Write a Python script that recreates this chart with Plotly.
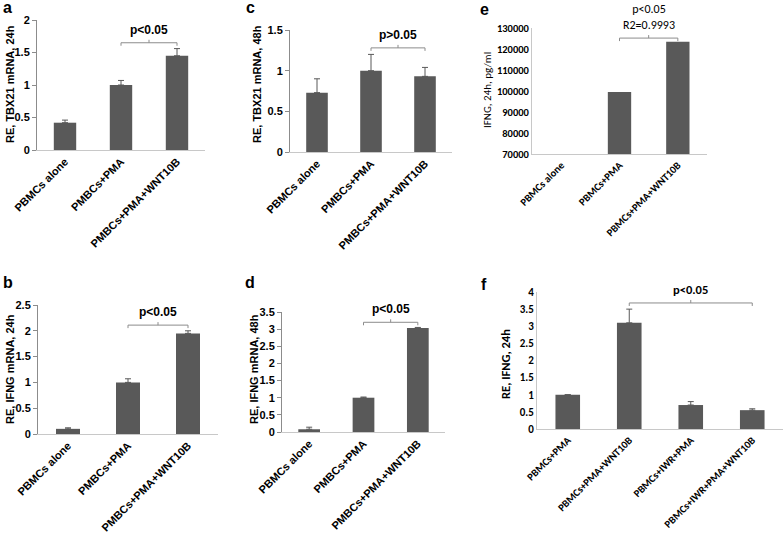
import plotly.graph_objects as go

W, H = 784, 533

# ---------------- data ----------------
cats_abcd = ["PBMCs alone", "PMBCs+PMA", "PMBCs+PMA+WNT10B"]
cats_e = ["PBMCs alone", "PBMCs+PMA", "PBMCs+PMA+WNT10B"]
cats_f = ["PBMCs+PMA", "PBMCs+PMA+WNT10B", "PBMCs+IWR+PMA", "PBMCs+IWR+PMA+WNT10B"]

a_vals = [0.42, 1.0, 1.45]
a_err = [0.04, 0.07, 0.11]
c_vals = [0.73, 1.0, 0.93]
c_err = [0.17, 0.2, 0.11]
e_vals = [None, 99500, 123500]
e_err = [0, 0, 0]
b_vals = [0.1, 1.0, 1.95]
b_err = [0.02, 0.07, 0.05]
d_vals = [0.08, 1.0, 3.03]
d_err = [0.06, 0.02, 0.02]
f_vals = [1.0, 3.1, 0.7, 0.55]
f_err = [0.0, 0.4, 0.1, 0.04]

a_ticks = [0, 0.5, 1, 1.5, 2]
c_ticks = [0, 0.5, 1, 1.5]
e_ticks = [70000, 80000, 90000, 100000, 110000, 120000, 130000]
b_ticks = [0, 0.5, 1, 1.5, 2, 2.5]
d_ticks = [0, 0.5, 1, 1.5, 2, 2.5, 3, 3.5]
f_ticks = [0, 0.5, 1, 1.5, 2, 2.5, 3, 3.5, 4]

# brackets: (from category index, to category index, height, label)
a_brk = (1, 2, 1.65, "p<0.05")
c_brk = (1, 2, 1.28, "p>0.05")
e_brk = (1, 2, 125200, "p<0.05<br>R2=0.9993")
b_brk = (1, 2, 2.11, "p<0.05")
d_brk = (1, 2, 3.2, "p<0.05")
f_brk = (1, 3, 3.68, "p<0.05")

# ---------------- layout helpers ----------------
BAR = "#595959"
ARIAL = "Liberation Sans"
CAL = "Carlito, Lato"

def px_x(p):
    return p / W

def px_y(p):
    return 1 - p / H

panels = [
    dict(cats=cats_abcd, vals=a_vals, err=a_err, ticks=a_ticks, rng=[0, 2], xp=(37, 205), yp=(150, 20),
         brk=a_brk, style="arial", title="RE, TBX21 mRNA, 24h", txy=(10, 84), letter="a", lxy=(8, 8),
         xfs=11, yfs=11, pfs=12, tfs=11),
    dict(cats=cats_abcd, vals=c_vals, err=c_err, ticks=c_ticks, rng=[0, 1.5], xp=(290, 452), yp=(152, 30),
         brk=c_brk, style="arial", title="RE, TBX21 mRNA, 48h", txy=(257, 84), letter="c", lxy=(250, 8),
         xfs=11, yfs=11, pfs=12, tfs=11),
    dict(cats=cats_e, vals=e_vals, err=e_err, ticks=e_ticks, rng=[70000, 130000], xp=(532, 707), yp=(154, 28),
         brk=e_brk, style="cal", title="IFNG, 24h, pg/ml", txy=(487, 90), letter="e", lxy=(484, 10),
         xfs=10.5, yfs=10.5, pfs=12, tfs=11),
    dict(cats=cats_abcd, vals=b_vals, err=b_err, ticks=b_ticks, rng=[0, 2.5], xp=(38, 218), yp=(434, 305),
         brk=b_brk, style="arial", title="RE, IFNG mRNA, 24h", txy=(10, 369), letter="b", lxy=(8, 282),
         xfs=11, yfs=11, pfs=12, tfs=11),
    dict(cats=cats_abcd, vals=d_vals, err=d_err, ticks=d_ticks, rng=[0, 3.5], xp=(282, 445), yp=(432, 312),
         brk=d_brk, style="arial", title="RE, IFNG mRNA, 48h", txy=(254, 369), letter="d", lxy=(250, 282),
         xfs=11, yfs=11, pfs=12, tfs=11),
    dict(cats=cats_f, vals=f_vals, err=f_err, ticks=f_ticks, rng=[0, 4], xp=(537, 783), yp=(429, 292),
         brk=f_brk, style="cal", title="RE, IFNG, 24h", txy=(505, 364), letter="f", lxy=(484, 284),
         xfs=10.5, yfs=11, pfs=12.5, tfs=12.5),
]

fig = go.Figure()
layout = dict(width=W, height=H, margin=dict(l=0, r=0, t=0, b=0, autoexpand=False),
              paper_bgcolor="white", plot_bgcolor="white", showlegend=False,
              bargap=0.6)
shapes = []
annotations = []

for i, p in enumerate(panels):
    n = i + 1
    xa = "x" if n == 1 else f"x{n}"
    ya = "y" if n == 1 else f"y{n}"
    xkey = "xaxis" if n == 1 else f"xaxis{n}"
    ykey = "yaxis" if n == 1 else f"yaxis{n}"
    arial = p["style"] == "arial"
    fam = ARIAL if arial else CAL

    fig.add_trace(go.Bar(
        x=list(range(len(p["cats"]))), y=p["vals"], width=0.4,
        marker=dict(color=BAR, line=dict(width=0)),
        error_y=dict(type="data", symmetric=False, array=p["err"],
                     arrayminus=[0] * len(p["err"]), color=BAR, thickness=1, width=3,
                     visible=any(e > 0 for e in p["err"])),
        xaxis=xa, yaxis=ya, hoverinfo="skip"))

    ncat = len(p["cats"])
    layout[xkey] = dict(
        domain=[px_x(p["xp"][0]), px_x(p["xp"][1])], anchor=ya, automargin=False,
        range=[-0.5, ncat - 0.5], tickmode="array",
        tickvals=list(range(ncat)), ticktext=p["cats"], tickangle=-45,
        tickfont=dict(family=fam, size=p["xfs"], color="black", weight="bold"),
        showline=True, linecolor="#c8c8c8", linewidth=1, ticks="", showgrid=False,
        zeroline=False, fixedrange=True)
    layout[ykey] = dict(
        domain=[px_y(p["yp"][0]), px_y(p["yp"][1])], anchor=xa, automargin=False,
        range=p["rng"], tickmode="array", tickvals=p["ticks"],
        ticktext=[f"{t:g}" for t in p["ticks"]],
        tickfont=dict(family=fam, size=p["yfs"], color="black", weight="bold"),
        showline=True, linecolor="#8c8c8c" if arial else "#c8c8c8", linewidth=1,
        ticks="outside" if arial else "", ticklen=4, tickcolor="#8c8c8c",
        showgrid=False, zeroline=False, fixedrange=True)

    # bracket
    c1, c2, h, lab = p["brk"]
    lc = "#8c8c8c"
    shapes.append(dict(type="line", xref=xa, yref=ya, x0=c1, x1=c2, y0=h, y1=h,
                       line=dict(color=lc, width=1)))
    for cx, dy in ((c1, -3), (c2, -3), ((c1 + c2) / 2, 3)):
        shapes.append(dict(type="line", xref=xa, yref=ya, x0=cx, x1=cx,
                           ysizemode="pixel", yanchor=h, y0=0, y1=dy,
                           line=dict(color=lc, width=1)))
    annotations.append(dict(
        xref=xa, yref=ya, x=(c1 + c2) / 2, y=h, text=lab, showarrow=False,
        xanchor="center", yanchor="bottom", yshift=4,
        font=dict(family=fam, size=p["pfs"], color="black",
                  weight="normal" if n == 3 else "bold")))

    # y title
    annotations.append(dict(
        xref="paper", yref="paper", x=px_x(p["txy"][0]), y=px_y(p["txy"][1]),
        text=p["title"], textangle=-90, showarrow=False,
        xanchor="center", yanchor="middle",
        font=dict(family=fam, size=p["tfs"], color="black",
                  weight="normal" if n == 3 else "bold")))

    # panel letter
    annotations.append(dict(
        xref="paper", yref="paper", x=px_x(p["lxy"][0]), y=px_y(p["lxy"][1]),
        text=p["letter"], showarrow=False, xanchor="center", yanchor="middle",
        font=dict(family=ARIAL, size=16, color="black", weight="bold")))

layout["shapes"] = shapes
layout["annotations"] = annotations
fig.update_layout(**layout)
fig.write_html("out.html", config={"displayModeBar": False},
               post_script="document.body.style.margin='0';document.body.style.overflow='hidden';")
